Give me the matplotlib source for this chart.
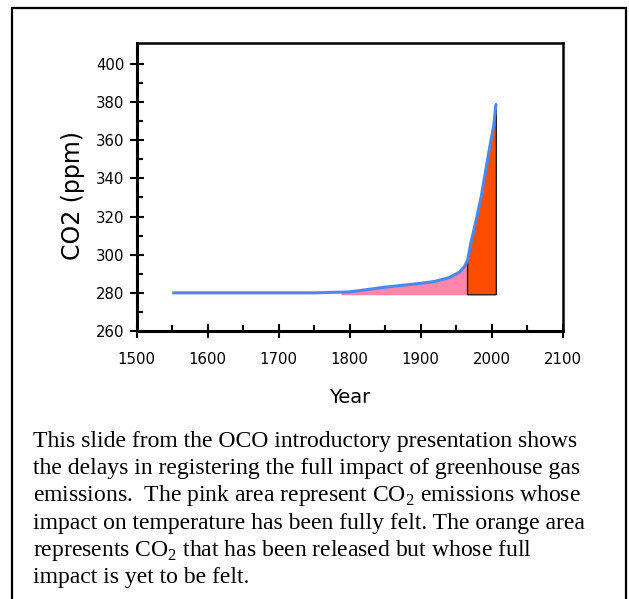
import matplotlib
matplotlib.use("Agg")
import matplotlib.pyplot as plt
import numpy as np
from matplotlib.patches import Rectangle

plt.rcParams.update({"font.family": "DejaVu Sans",
                     "mathtext.fontset": "custom",
                     "mathtext.rm": "Liberation Serif"})

BLUE = "#4d86ec"; PINK = "#ff85aa"; ORANGE = "#ff4d00"

# CO2 concentration
years = [1550, 1650, 1700, 1750, 1800, 1850, 1900, 1920, 1940, 1955, 1962, 1966,
         1970, 1978, 1985, 1992, 1998, 2003, 2006]
ppm = [280, 280, 280, 280, 280.5, 283, 285, 286, 288, 291, 294, 297,
       305, 318, 330, 345, 358, 368, 379]
pink_span = (1788, 1966)
orange_span = (1966, 2006.5)
base = 279

yr = np.array(years, float); co2 = np.array(ppm, float)

fig = plt.figure(figsize=(6.29, 5.99), dpi=100)
W, H = 629, 599
ax = fig.add_axes([136.7 / W, 1 - 331 / H, 426 / W, 288 / H])

# pink: impact fully felt
mp = (yr >= pink_span[0]) & (yr <= pink_span[1])
xp = np.concatenate([[pink_span[0]], yr[mp]])
yp = np.concatenate([[np.interp(pink_span[0], yr, co2)], co2[mp]])
ax.fill_between(xp, base, yp, color=PINK, lw=0, zorder=2)

# orange: released, not yet felt
mo = (yr >= orange_span[0]) & (yr <= orange_span[1])
xo = np.concatenate([yr[mo], [orange_span[1]]])
yo = np.concatenate([co2[mo], [np.interp(orange_span[1], yr, co2)]])
poly_x = np.concatenate([[orange_span[0]], xo, [orange_span[1], orange_span[0]]])
poly_y = np.concatenate([[base], yo, [base, base]])
ax.fill(poly_x, poly_y, facecolor=ORANGE, edgecolor="#222222", lw=1.0, zorder=2)

ax.plot(yr, co2, color=BLUE, lw=2.2, zorder=3, solid_capstyle="butt")

ax.set_xlim(1500, 2100)
ax.set_ylim(260, 411)
ax.set_xticks(np.arange(1500, 2101, 100))
ax.set_yticks(np.arange(260, 401, 20))
ax.set_xticks(np.arange(1550, 2100, 100), minor=True)
ax.set_yticks(np.arange(270, 400, 20), minor=True)
ax.tick_params(which="major", direction="inout", length=10, width=1.5, labelsize=10.7)
ax.tick_params(axis="x", which="major", pad=10)
ax.tick_params(axis="y", which="major", pad=4)
ax.tick_params(which="minor", direction="in", length=4, width=1.5)
for s in ("left", "bottom"):
    ax.spines[s].set_linewidth(2.2)
for s in ("top", "right"):
    ax.spines[s].set_linewidth(1.8)
ax.set_ylabel("CO2 (ppm)", fontsize=17)
ax.yaxis.set_label_coords(-0.121, 0.47)
ax.set_xlabel("Year", fontsize=14, labelpad=15)

# outer frame
fig.patches.append(Rectangle((12 / W, -0.05), (626 - 12) / W, 1.05 - 8 / H,
                             transform=fig.transFigure, fill=False,
                             edgecolor="black", lw=1.6))

caption = [
    "This slide from the OCO introductory presentation shows",
    "the delays in registering the full impact of greenhouse gas",
    r"emissions.  The pink area represent CO$_2$ emissions whose",
    "impact on temperature has been fully felt. The orange area",
    r"represents CO$_2$ that has been released but whose full",
    "impact is yet to be felt.",
]
for i, line in enumerate(caption):
    fig.text(33 / W, 1 - (447 + i * 27.2) / H, line, fontsize=17,
             family="Liberation Serif", va="baseline", ha="left")

fig.savefig("out.png", dpi=100, facecolor="white")
